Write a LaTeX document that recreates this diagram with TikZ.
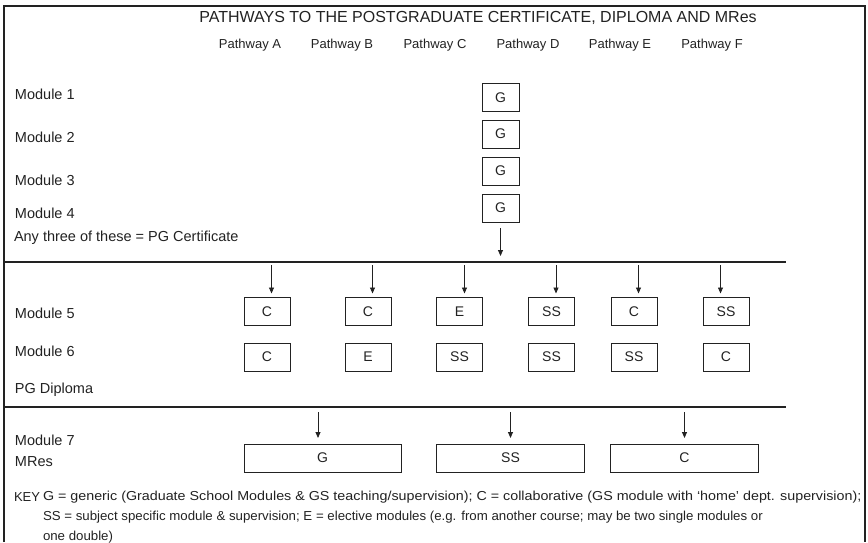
\documentclass[tikz,border=0pt]{standalone}
\usepackage{fontspec}
\setmainfont{Liberation Sans}
\usetikzlibrary{arrows.meta}
\definecolor{ink}{HTML}{222222}
\begin{document}
\begin{tikzpicture}[x=1pt,y=-1pt,
  every node/.style={inner sep=0pt, outer sep=0pt, text=ink,
    font=\fontsize{14}{16}\selectfont},
  modbox/.style={draw=ink, line width=0.9pt, minimum height=28pt},
  gbox/.style={modbox, minimum width=37pt},
  mbox/.style={modbox, minimum width=46pt},
  wbox/.style={modbox, minimum width=148pt},
  lbl/.style={anchor=west, font=\fontsize{14.5}{16}\selectfont},
  pathlbl/.style={font=\fontsize{13}{15}\selectfont},
  keytext/.style={anchor=west, font=\fontsize{13}{15}\selectfont},
  flow/.style={draw=ink, line width=0.8pt, -{Triangle[length=6pt,width=5pt]}},
  rule/.style={draw=ink, line width=1.2pt}]
\useasboundingbox (0,0) rectangle (868,542);

% outer frame (open at the bottom edge of the page)
\draw[rule] (4,542) -- (4,6) -- (865,6) -- (865,542);

% heading
\node[font=\fontsize{16}{18}\selectfont] (title) at (478,18) {PATHWAYS TO THE POSTGRADUATE CERTIFICATE, DIPLOMA AND MRes};
\node[pathlbl] (pa) at (250,45) {Pathway A};
\node[pathlbl] (pb) at (342,45) {Pathway B};
\node[pathlbl] (pc) at (435,45) {Pathway C};
\node[pathlbl] (pd) at (528,45) {Pathway D};
\node[pathlbl] (pe) at (620,45) {Pathway E};
\node[pathlbl] (pf) at (712,45) {Pathway F};

% certificate stage
\node[lbl] (l1) at (15,94) {Module 1};
\node[lbl] (l2) at (15,137) {Module 2};
\node[lbl] (l3) at (15,180) {Module 3};
\node[lbl] (l4) at (15,213) {Module 4};
\node[lbl] (lcert) at (14,238) {Any three of these = PG Certificate};
\node[gbox] (g1) at (500.5,97.5) {G};
\node[gbox] (g2) at (500.5,134) {G};
\node[gbox] (g3) at (500.5,171) {G};
\node[gbox] (g4) at (500.5,208) {G};
\coordinate (gend) at (500.5,256);
\draw[flow, shorten <=6pt] (g4.south) -- (gend);

\coordinate (s1a) at (4,262);
\coordinate (s1b) at (786,262);
\draw[rule] (s1a) -- (s1b);

% diploma stage
\node[lbl] (l5) at (15,313) {Module 5};
\node[lbl] (l6) at (15,351) {Module 6};
\node[lbl] (ldip) at (15,390) {PG Diploma};

\node[mbox] (a5) at (267,311.5) {C};
\node[mbox] (b5) at (368,311.5) {C};
\node[mbox] (c5) at (459.5,311.5) {E};
\node[mbox] (d5) at (551.5,311.5) {SS};
\node[mbox] (e5) at (634,311.5) {C};
\node[mbox] (f5) at (726,311.5) {SS};

\node[mbox] (a6) at (267,357) {C};
\node[mbox] (b6) at (368,357) {E};
\node[mbox] (c6) at (459.5,357) {SS};
\node[mbox] (d6) at (551.5,357) {SS};
\node[mbox] (e6) at (634,357) {SS};
\node[mbox] (f6) at (726,357) {C};

\coordinate (ta) at (271.5,265);
\coordinate (tb) at (372.5,265);
\coordinate (tc) at (464.5,265);
\coordinate (td) at (556,265);
\coordinate (te) at (638.5,265);
\coordinate (tf) at (720.5,265);
\foreach \t/\b in {ta/a5,tb/b5,tc/c5,td/d5,te/e5,tf/f5}
  \draw[flow, shorten >=4pt] (\t) -- (\t |- \b.north);

\coordinate (s2a) at (4,407);
\coordinate (s2b) at (786,407);
\draw[rule] (s2a) -- (s2b);

% MRes stage
\node[lbl] (l7) at (15,440) {Module 7};
\node[lbl] (lmres) at (15,462) {MRes};
\node[wbox, minimum width=157pt] (m7g) at (322.5,458) {G};
\node[wbox] (m7s) at (510.5,458) {SS};
\node[wbox] (m7c) at (684.5,458) {C};
\coordinate (tg) at (318,412);
\coordinate (ts) at (510.5,412);
\coordinate (tcc) at (684.5,412);
\foreach \t/\b in {tg/m7g,ts/m7s,tcc/m7c}
  \draw[flow, shorten >=6pt] (\t) -- (\t |- \b.north);

% key
\node[keytext] (key) at (14,497) {KEY};
\node[keytext] (k1) at (43,497) {\scalebox{1.1}[1]{G = generic (Graduate School Modules \& GS teaching/supervision); C = collaborative (GS module with ‘home’ dept. supervision);}};
\node[keytext] (k2) at (43,517) {\scalebox{1.02}[1]{SS = subject specific module \& supervision; E = elective modules (e.g. from another course; may be two single modules or}};
\node[keytext] (k3) at (43,537) {\scalebox{1.02}[1]{one double)}};
\end{tikzpicture}
\end{document}
